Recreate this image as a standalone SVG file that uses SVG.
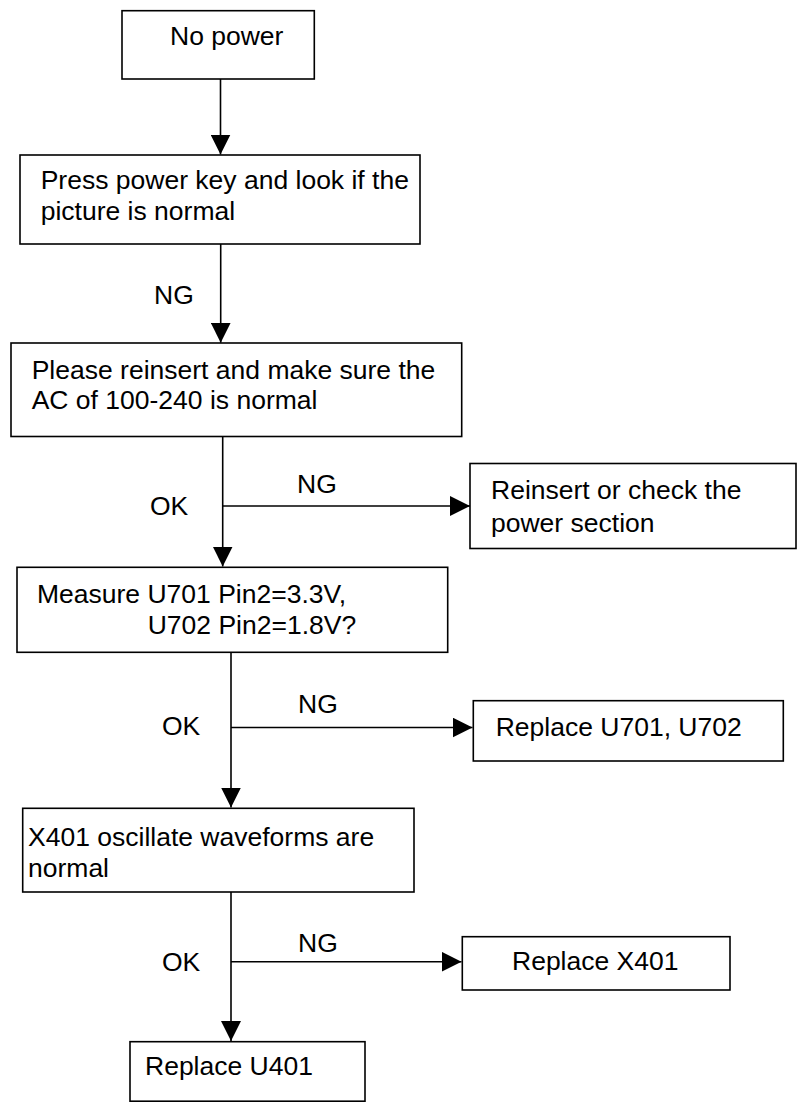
<svg xmlns="http://www.w3.org/2000/svg" width="797" height="1102" viewBox="0 0 797 1102">
<style>
.box{fill:#fff;stroke:#000;stroke-width:1.6}
.t{font-family:"Liberation Sans",Arial,sans-serif;font-size:26.5px;fill:#000}
.c{fill:none;stroke:#000;stroke-width:1.6}
</style>
<defs>
<marker id="ah" markerUnits="userSpaceOnUse" markerWidth="20" markerHeight="20" refX="20" refY="10" orient="auto" viewBox="0 0 20 20">
<path d="M0,0 L20,10 L0,20 z" fill="#000"/>
</marker>
</defs>
<rect width="797" height="1102" fill="#fff"/>
<g id="connectors">
<line class="c" x1="220.5" y1="79" x2="220.5" y2="154.5" marker-end="url(#ah)"/>
<line class="c" x1="220.7" y1="244" x2="220.7" y2="342.7" marker-end="url(#ah)"/>
<line class="c" x1="222.7" y1="436.5" x2="222.7" y2="566.5" marker-end="url(#ah)"/>
<line class="c" x1="222.7" y1="506" x2="470" y2="506" marker-end="url(#ah)"/>
<line class="c" x1="231" y1="652.3" x2="231" y2="807.5" marker-end="url(#ah)"/>
<line class="c" x1="231" y1="727.5" x2="472.5" y2="727.5" marker-end="url(#ah)"/>
<line class="c" x1="231" y1="892" x2="231" y2="1041" marker-end="url(#ah)"/>
<line class="c" x1="231" y1="961.7" x2="461.5" y2="961.7" marker-end="url(#ah)"/>
<text class="t" x="154" y="304">NG</text>
<text class="t" x="150" y="515">OK</text>
<text class="t" x="297" y="493">NG</text>
<text class="t" x="162" y="735">OK</text>
<text class="t" x="298" y="713">NG</text>
<text class="t" x="162" y="971">OK</text>
<text class="t" x="298" y="952">NG</text>
</g>
<g id="n1">
<rect class="box" x="122" y="10.7" width="192.3" height="68.3"/>
<text class="t" x="170" y="45">No power</text>
</g>
<g id="n2">
<rect class="box" x="20" y="155" width="400" height="89"/>
<text class="t" x="40.7" y="189">Press power key and look if the</text>
<text class="t" x="40.7" y="220">picture is normal</text>
</g>
<g id="n3">
<rect class="box" x="11" y="343" width="450.7" height="93.5"/>
<text class="t" x="31.7" y="379">Please reinsert and make sure the</text>
<text class="t" x="31.7" y="409">AC of 100-240 is normal</text>
</g>
<g id="n4">
<rect class="box" x="470" y="463.5" width="326" height="85"/>
<text class="t" x="491" y="499">Reinsert or check the</text>
<text class="t" x="491" y="532">power section</text>
</g>
<g id="n5">
<rect class="box" x="17" y="567.3" width="430.7" height="85"/>
<text class="t" x="37" y="603">Measure U701 Pin2=3.3V,</text>
<text class="t" x="147.7" y="634">U702 Pin2=1.8V?</text>
</g>
<g id="n6">
<rect class="box" x="473.3" y="700.7" width="310" height="60.3"/>
<text class="t" x="495.7" y="735.7">Replace U701, U702</text>
</g>
<g id="n7">
<rect class="box" x="22.7" y="808.3" width="391.3" height="83.7"/>
<text class="t" x="28" y="846">X401 oscillate waveforms are</text>
<text class="t" x="28" y="877">normal</text>
</g>
<g id="n8">
<rect class="box" x="462.3" y="936.7" width="267.7" height="53.3"/>
<text class="t" x="512" y="970">Replace X401</text>
</g>
<g id="n9">
<rect class="box" x="130" y="1041.7" width="235" height="59.5"/>
<text class="t" x="145" y="1075">Replace U401</text>
</g>
</svg>
